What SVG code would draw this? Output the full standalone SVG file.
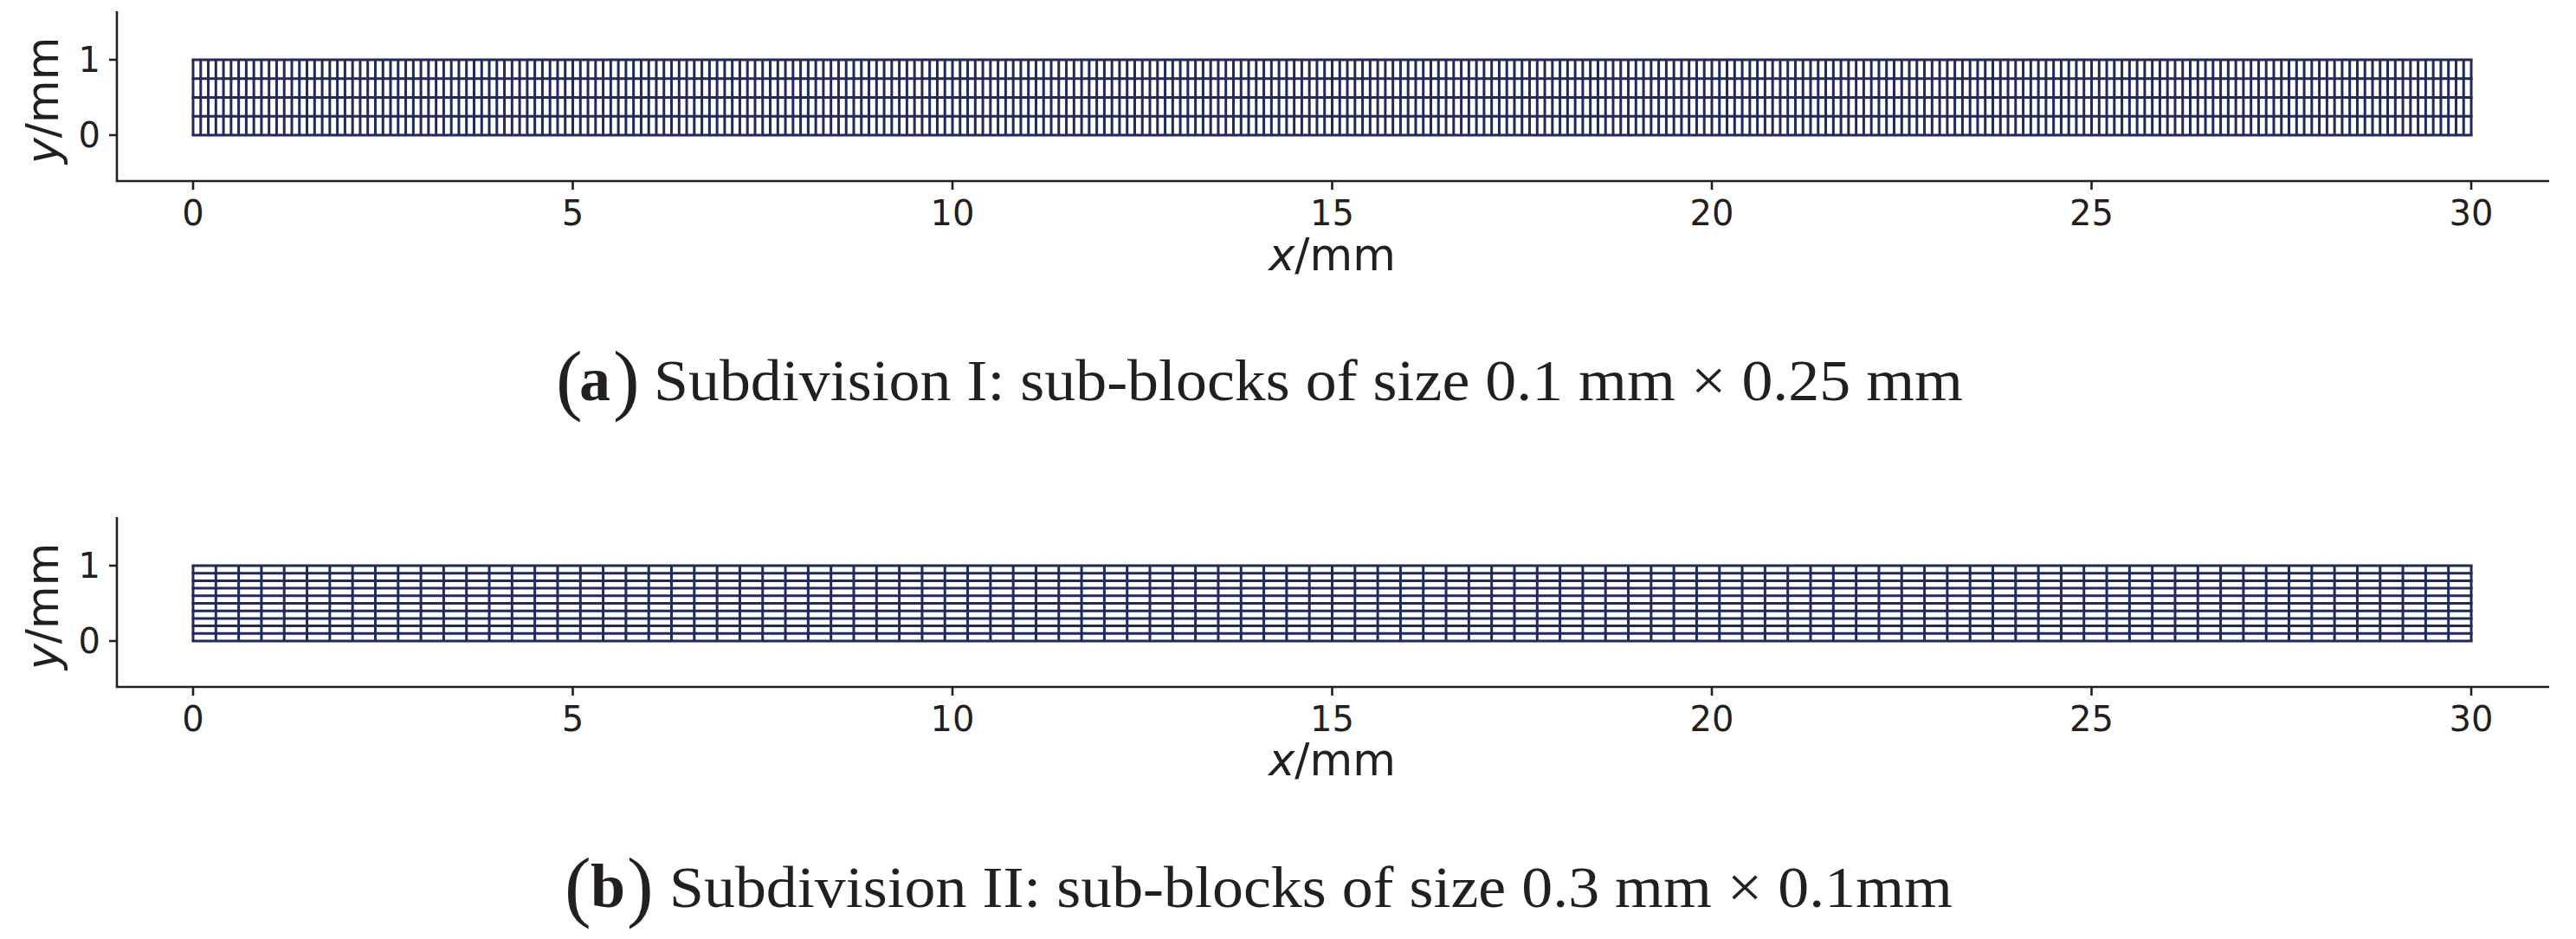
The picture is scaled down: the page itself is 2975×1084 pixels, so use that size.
<svg xmlns="http://www.w3.org/2000/svg" width="2975" height="1084" viewBox="0 0 2975 1084">
<style>
.bg{fill:#ffffff}
.spine{stroke:#231f20;stroke-width:2.6;fill:none}
.tick{stroke:#231f20;stroke-width:2.6}
.grid{stroke:#202a5f;fill:none}
.tl{font-family:"DejaVu Sans",sans-serif;font-size:40px;fill:#231f20}
.al{font-family:"DejaVu Sans",sans-serif;font-size:51px;fill:#231f20}
.cap{font-family:"Liberation Serif",serif;font-size:68px;fill:#231f20}
.par{font-family:"Liberation Serif",serif;font-size:92px;fill:#231f20}
.lab{font-family:"Liberation Serif",serif;font-size:72px;font-weight:bold;fill:#231f20}
</style>
<rect class="bg" x="0" y="0" width="2975" height="1084"/>

<g id="panel-a">
  <g id="grid-a">
    <line class="grid" x1="221.5" y1="112.5" x2="2855.5" y2="112.5" stroke-width="87" stroke-dasharray="3 5.77"/>
    <line class="grid" x1="1538.5" y1="67.5" x2="1538.5" y2="157.5" stroke-width="2634" stroke-dasharray="3 18.75"/>
  </g>
  <g id="axes-a">
    <path class="spine" d="M135 13V209H2944"/>
    <path class="tick" d="M126 69H135M126 156H135M223 209V219M661.5 209V219M1100 209V219M1538.5 209V219M1977 209V219M2415.5 209V219M2854 209V219"/>
    <text class="tl" x="116" y="83" text-anchor="end">1</text>
    <text class="tl" x="116" y="170" text-anchor="end">0</text>
    <text class="tl" x="223" y="260" text-anchor="middle">0</text>
    <text class="tl" x="661.5" y="260" text-anchor="middle">5</text>
    <text class="tl" x="1100" y="260" text-anchor="middle">10</text>
    <text class="tl" x="1538.5" y="260" text-anchor="middle">15</text>
    <text class="tl" x="1977" y="260" text-anchor="middle">20</text>
    <text class="tl" x="2415.5" y="260" text-anchor="middle">25</text>
    <text class="tl" x="2854" y="260" text-anchor="middle">30</text>
    <text class="al" x="1538.5" y="312" text-anchor="middle"><tspan font-style="italic">x</tspan>/mm</text>
    <text class="al" transform="translate(67 116) rotate(-90)" text-anchor="middle"><tspan font-style="italic">y</tspan>/mm</text>
  </g>
  <g id="caption-a">
    <text class="par" x="642" y="468">(</text>
    <text class="lab" x="669" y="462">a</text>
    <text class="par" x="708" y="468">)</text>
    <text class="cap" x="755" y="462" textLength="1512" lengthAdjust="spacingAndGlyphs">Subdivision I: sub-blocks of size 0.1 mm × 0.25 mm</text>
  </g>
</g>

<g id="panel-b">
  <g id="grid-b">
    <line class="grid" x1="221.5" y1="696.5" x2="2855.5" y2="696.5" stroke-width="87" stroke-dasharray="3 23.31"/>
    <line class="grid" x1="1538.5" y1="651.5" x2="1538.5" y2="741.5" stroke-width="2634" stroke-dasharray="3 5.7"/>
  </g>
  <g id="axes-b">
    <path class="spine" d="M135 597V793H2944"/>
    <path class="tick" d="M126 653H135M126 740H135M223 793V803M661.5 793V803M1100 793V803M1538.5 793V803M1977 793V803M2415.5 793V803M2854 793V803"/>
    <text class="tl" x="116" y="667" text-anchor="end">1</text>
    <text class="tl" x="116" y="754" text-anchor="end">0</text>
    <text class="tl" x="223" y="844" text-anchor="middle">0</text>
    <text class="tl" x="661.5" y="844" text-anchor="middle">5</text>
    <text class="tl" x="1100" y="844" text-anchor="middle">10</text>
    <text class="tl" x="1538.5" y="844" text-anchor="middle">15</text>
    <text class="tl" x="1977" y="844" text-anchor="middle">20</text>
    <text class="tl" x="2415.5" y="844" text-anchor="middle">25</text>
    <text class="tl" x="2854" y="844" text-anchor="middle">30</text>
    <text class="al" x="1538.5" y="895" text-anchor="middle"><tspan font-style="italic">x</tspan>/mm</text>
    <text class="al" transform="translate(67 700) rotate(-90)" text-anchor="middle"><tspan font-style="italic">y</tspan>/mm</text>
  </g>
  <g id="caption-b">
    <text class="par" x="652" y="1053">(</text>
    <text class="lab" x="682" y="1047">b</text>
    <text class="par" x="724" y="1053">)</text>
    <text class="cap" x="773" y="1047" textLength="1482" lengthAdjust="spacingAndGlyphs">Subdivision II: sub-blocks of size 0.3 mm × 0.1mm</text>
  </g>
</g>
</svg>
